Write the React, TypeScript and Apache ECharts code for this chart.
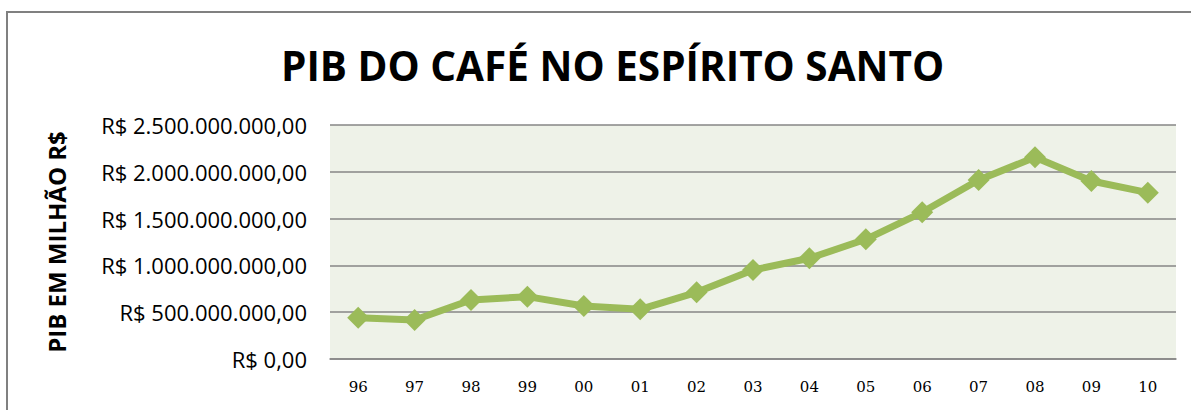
import React, { useEffect, useRef } from "react";
import * as echarts from "echarts";

const categories = ["96", "97", "98", "99", "00", "01", "02", "03", "04", "05", "06", "07", "08", "09", "10"];
const pibValues = [441e6, 417e6, 630e6, 666e6, 566e6, 531e6, 712e6, 951e6, 1076e6, 1279e6, 1567e6, 1912e6, 2155e6, 1902e6, 1777e6];
const yTicks = [0, 500e6, 1000e6, 1500e6, 2000e6, 2500e6];

function fmtBRL(v: number): string {
  const intPart = Math.round(v).toString().replace(/\B(?=(\d{3})+(?!\d))/g, ".");
  return "R$ " + intPart + ",00";
}

export default function App() {
  const ref = useRef<HTMLDivElement>(null);
  useEffect(() => {
    if (!ref.current) return;
    const chart = echarts.init(ref.current, null, { renderer: "svg" });
    chart.setOption({
      animation: false,
      backgroundColor: "#ffffff",
      title: {
        text: "PIB DO CAFÉ NO ESPÍRITO SANTO",
        left: 276,
        top: 40,
        textStyle: { fontFamily: "Open Sans", fontWeight: "bold", fontSize: 40.5, color: "#000" },
      },
      graphic: [
        {
          type: "rect",
          shape: { x: 7, y: 12, width: 1300, height: 500 },
          style: { fill: "none", stroke: "#808080", lineWidth: 2 },
          silent: true,
        },
      ],
      grid: {
        left: 330,
        top: 125,
        width: 846,
        height: 234,
        show: true,
        backgroundColor: "#EEF2E8",
        borderWidth: 0,
      },
      xAxis: {
        type: "category",
        data: categories,
        boundaryGap: true,
        axisLine: { show: true, lineStyle: { color: "#868686", width: 1.5 } },
        axisTick: { show: false },
        axisLabel: {
          fontFamily: "DejaVu Serif",
          fontSize: 15,
          color: "#000",
          margin: 20,
        },
      },
      yAxis: {
        type: "value",
        min: yTicks[0],
        max: yTicks[yTicks.length - 1],
        interval: 500e6,
        name: "PIB EM MILHÃO R$",
        nameLocation: "middle",
        nameGap: 262,
        nameRotate: 90,
        nameTextStyle: { fontFamily: "Open Sans", fontWeight: "bold", fontSize: 24, color: "#000" },
        axisLine: { show: false },
        axisTick: { show: false },
        splitLine: { show: true, lineStyle: { color: "#868686", width: 1.5 } },
        axisLabel: {
          fontFamily: "Open Sans",
          fontSize: 22,
          color: "#000",
          margin: 23,
          formatter: (v: number) => fmtBRL(v),
        },
      },
      series: [
        {
          type: "line",
          data: pibValues,
          symbol: "diamond",
          symbolSize: 22,
          lineStyle: { color: "#9BBB59", width: 7 },
          itemStyle: { color: "#9BBB59" },
        },
      ],
    });
    return () => chart.dispose();
  }, []);
  return <div ref={ref} style={{ position: "fixed", left: 0, top: 0, width: 1191, height: 410 }} />;
}
